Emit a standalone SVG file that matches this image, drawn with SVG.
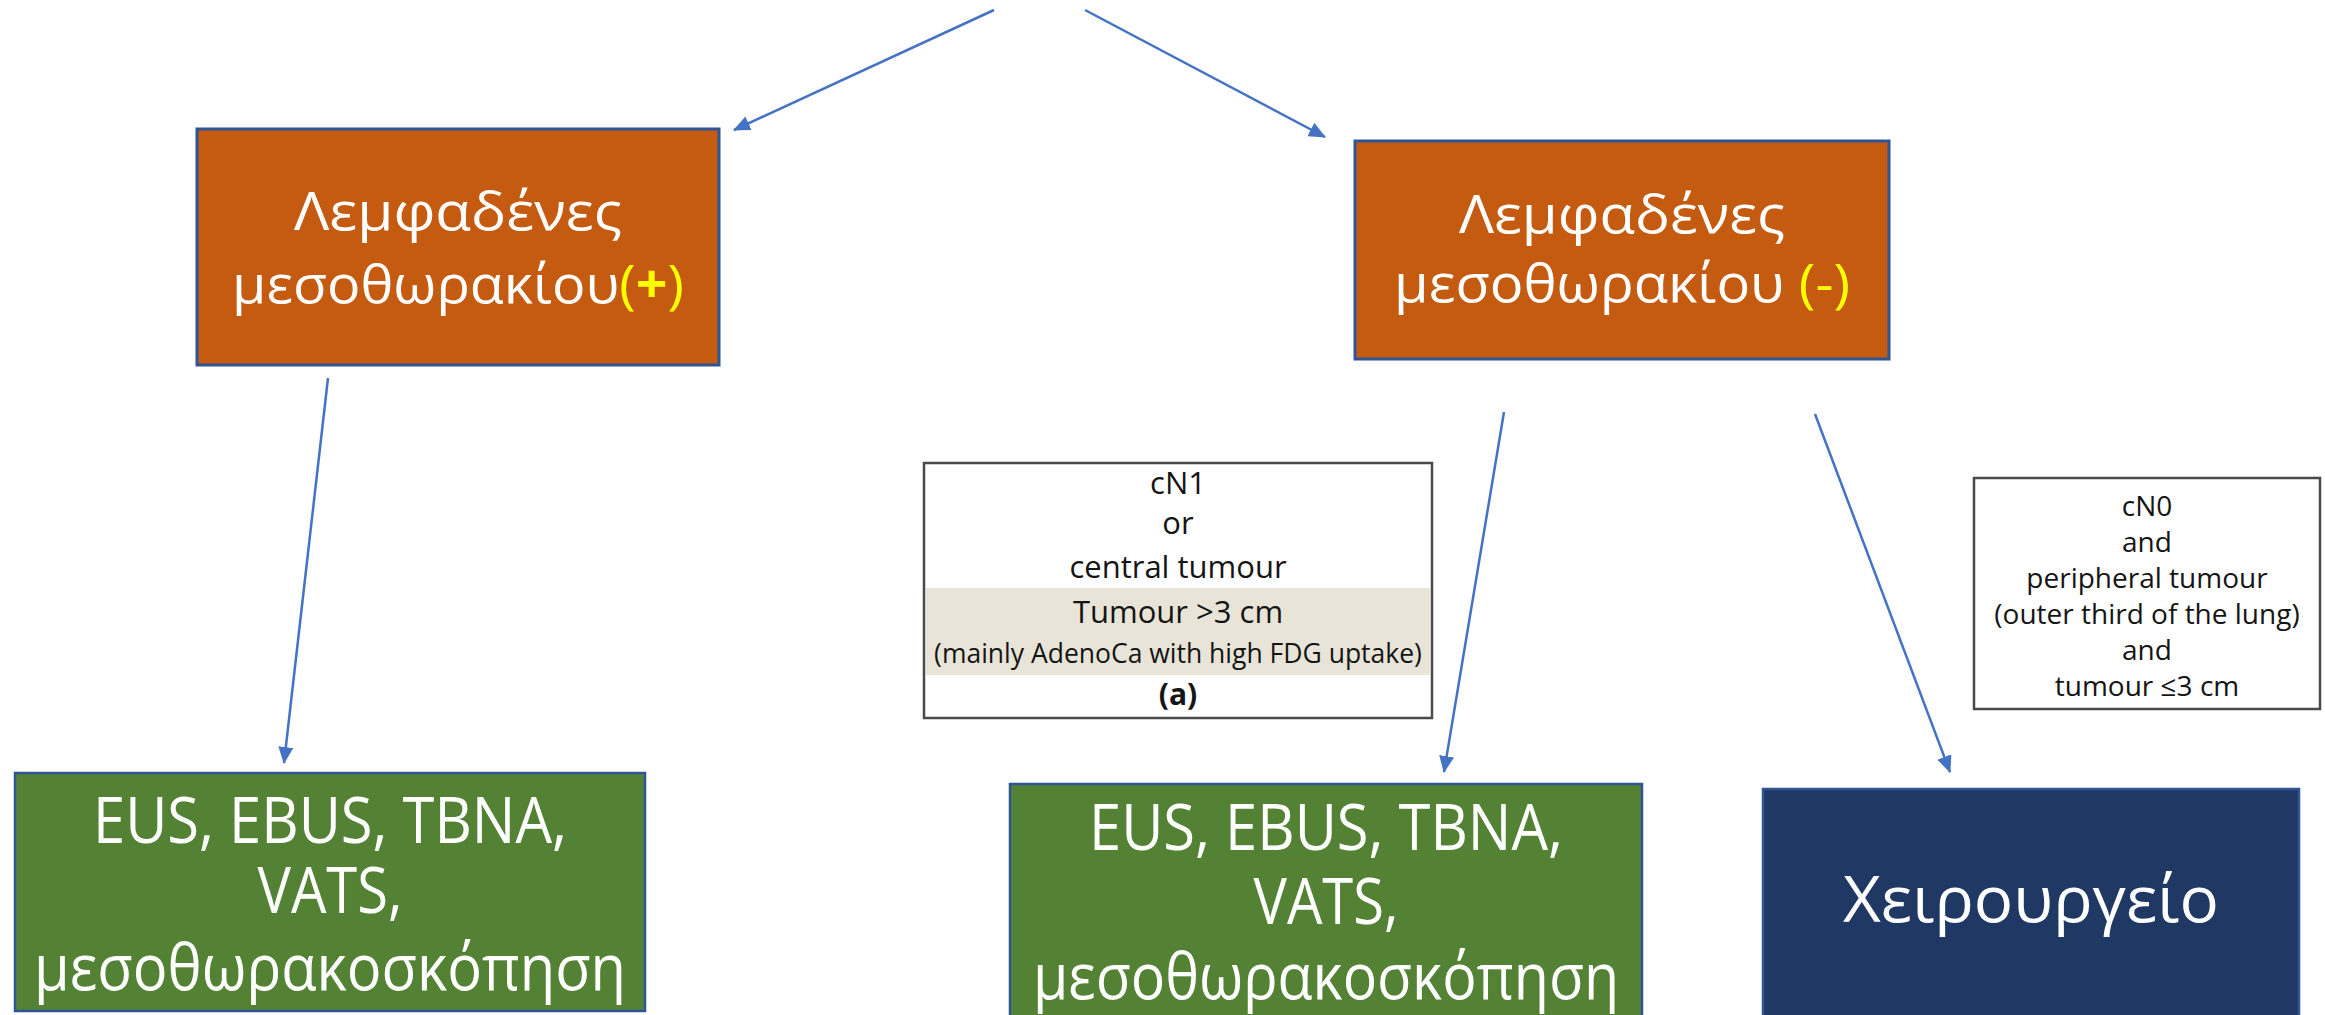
<svg xmlns="http://www.w3.org/2000/svg" width="2325" height="1015" viewBox="0 0 2325 1015">
  <defs>
    <marker id="arr" markerUnits="userSpaceOnUse" markerWidth="17" markerHeight="15" refX="16" refY="7.5" orient="auto">
      <path d="M0,0 L17,7.5 L0,15 z" fill="#4472C4"/>
    </marker>
    <style>
      .orange { fill: #C55A11; stroke: #2F5597; stroke-width: 3; }
      .green { fill: #548235; stroke: #2F5597; stroke-width: 2.5; }
      .navy { fill: #203864; stroke: #2F5597; stroke-width: 2.5; }
      .img { fill: #FFFFFF; stroke: #4A4A4A; stroke-width: 2.5; }
      .band { fill: #E8E5D8; }
      .big { font-family: "Open Sans", "Noto Sans", "DejaVu Sans", sans-serif; fill: #FFFFFF; text-anchor: middle; }
      .t53 { font-size: 53px; }
      .t64 { font-size: 64px; }
      .yel { fill: #FFFF00; }
      .small { font-family: "Open Sans", "Noto Sans", "DejaVu Sans", sans-serif; fill: #151515; text-anchor: middle; }
      .conn { stroke: #4472C4; stroke-width: 2.5; fill: none; marker-end: url(#arr); }
    </style>
  </defs>

  <rect x="0" y="0" width="2325" height="1015" fill="#FFFFFF"/>

  <g id="connectors">
    <line class="conn" x1="994" y1="10" x2="734" y2="130"/>
    <line class="conn" x1="1085" y1="10" x2="1325" y2="137"/>
    <line class="conn" x1="328" y1="378" x2="284" y2="763"/>
    <line class="conn" x1="1504" y1="412" x2="1444" y2="772"/>
    <line class="conn" x1="1815" y1="414" x2="1950" y2="772"/>
  </g>

  <g id="node-lymph-pos">
    <rect class="orange" x="197" y="129" width="522" height="236"/>
    <text class="big t53" x="458" y="230" textLength="328" lengthAdjust="spacingAndGlyphs">Λεμφαδένες</text>
    <text class="big t53" x="458" y="303" textLength="452" lengthAdjust="spacingAndGlyphs">μεσοθωρακίου<tspan class="yel">(</tspan><tspan class="yel" font-weight="bold">+</tspan><tspan class="yel">)</tspan></text>
  </g>

  <g id="node-lymph-neg">
    <rect class="orange" x="1355" y="141" width="534" height="218"/>
    <text class="big t53" x="1622" y="233" textLength="326" lengthAdjust="spacingAndGlyphs">Λεμφαδένες</text>
    <text class="big t53" x="1622" y="302" textLength="456" lengthAdjust="spacingAndGlyphs">μεσοθωρακίου <tspan class="yel">(-)</tspan></text>
  </g>

  <g id="node-criteria-a">
    <rect class="img" x="924" y="463" width="508" height="255"/>
    <rect class="band" x="926" y="588" width="504" height="87"/>
    <text class="small" x="1178" y="494" font-size="31">cN1</text>
    <text class="small" x="1178" y="534" font-size="31">or</text>
    <text class="small" x="1178" y="578" font-size="31">central tumour</text>
    <text class="small" x="1178" y="623" font-size="31">Tumour &gt;3 cm</text>
    <text class="small" x="1178" y="663" font-size="26.5">(mainly AdenoCa with high FDG uptake)</text>
    <text class="small" x="1178" y="705" font-size="30" font-weight="bold">(a)</text>
  </g>

  <g id="node-criteria-b">
    <rect class="img" x="1974" y="478" width="346" height="231"/>
    <text class="small" x="2147" y="516" font-size="28">cN0</text>
    <text class="small" x="2147" y="552" font-size="28">and</text>
    <text class="small" x="2147" y="588" font-size="28">peripheral tumour</text>
    <text class="small" x="2147" y="624" font-size="28">(outer third of the lung)</text>
    <text class="small" x="2147" y="660" font-size="28">and</text>
    <text class="small" x="2147" y="696" font-size="28">tumour ≤3 cm</text>
  </g>

  <g id="node-staging-left">
    <rect class="green" x="15" y="773" width="630" height="238"/>
    <text class="big t64" x="330" y="843" textLength="474" lengthAdjust="spacingAndGlyphs">EUS, EBUS, TBNA,</text>
    <text class="big t64" x="330" y="913" textLength="145" lengthAdjust="spacingAndGlyphs">VATS,</text>
    <text class="big t64" x="330" y="990" textLength="592" lengthAdjust="spacingAndGlyphs">μεσοθωρακοσκόπηση</text>
  </g>

  <g id="node-staging-middle">
    <rect class="green" x="1010" y="784" width="632" height="240"/>
    <text class="big t64" x="1326" y="850" textLength="474" lengthAdjust="spacingAndGlyphs">EUS, EBUS, TBNA,</text>
    <text class="big t64" x="1326" y="924" textLength="145" lengthAdjust="spacingAndGlyphs">VATS,</text>
    <text class="big t64" x="1326" y="999" textLength="586" lengthAdjust="spacingAndGlyphs">μεσοθωρακοσκόπηση</text>
  </g>

  <g id="node-surgery">
    <rect class="navy" x="1763" y="789" width="536" height="240"/>
    <text class="big t64" x="2031" y="922" textLength="376" lengthAdjust="spacingAndGlyphs">Χειρουργείο</text>
  </g>
</svg>
